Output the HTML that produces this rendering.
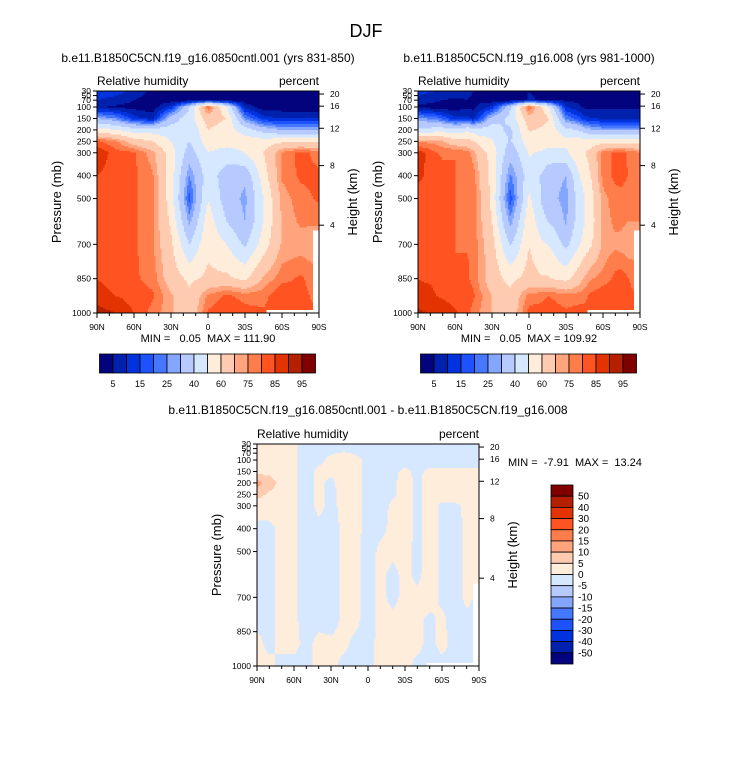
<!DOCTYPE html>
<html><head><meta charset="utf-8"><style>
html,body{margin:0;padding:0;background:#fff;}
svg{display:block;font-family:"Liberation Sans",Arial,sans-serif;}
text{white-space:pre;}
</style></head><body>
<svg id="fig" width="733" height="760" viewBox="0 0 733 760">
<text x="366" y="37" font-size="18" text-anchor="middle">DJF</text>
</svg>
<script>
// ---- data ----
const lats = [90,75,60,45,30,15,0,-15,-30,-45,-60,-75,-90];
const levs = [30,70,100,150,200,250,300,400,500,600,700,850,925,1000];
const rh = [
 [14,12,9,3,2,2,3,2,2,2,2,2,2],
 [10,8,5,2,2,2,4,2,2,2,2,2,2],
 [6,4,3,2,12,40,80,50,8,2,2,2,2],
 [30,25,12,8,35,45,65,60,25,12,10,10,10],
 [55,50,45,45,45,40,60,55,45,35,30,30,30],
 [81,76,65,60,50,40,55,55,55,55,58,58,58],
 [90,82,81,72,55,35,50,45,50,60,76,82,78],
 [85,82,81,76,55,25,45,35,32,55,76,81,81],
 [82,81,81,76,55,18,50,35,28,50,72,78,81],
 [81,81,81,76,58,28,55,40,30,50,71,76,76],
 [81,81,81,76,62,40,58,50,38,55,71,72,71],
 [85,82,81,78,65,58,62,62,58,71,78,81,76],
 [88,85,83,81,71,62,76,81,78,78,85,82,78],
 [92,90,85,78,71,62,81,85,82,81,82,81,81]
];
const dLats = [90,80,70,60,50,40,30,20,10,0,-10,-20,-30,-40,-50,-60,-70,-80,-90];
const dLevs = [30,100,150,200,250,300,400,500,600,700,800,900,1000];
const diff = [
 [2,2,2,1,-2,-2,-2,-2,-2,-2,-2,-2,-2,-2,-2,-2,-2,-2,-2],
 [2,2,2,1,-2,-1,1,2,1,-1,-2,-2,-2,-2,-2,-2,-2,-2,-2],
 [3,3,2,1,-2,1,1,2,1,-1,-2,-1,1,-1,1,1,1,1,1],
 [12,8,3,1,-2,1,-1,2,1,-1,-2,-1,2,-1,2,2,2,2,2],
 [7,4,2,1,-2,1,-1,1,1,-1,-2,-1,2,-1,2,2,2,2,2],
 [2,2,2,1,-2,1,-1,1,1,-1,-2,1,2,-1,2,-1,-1,1,2],
 [-1,-1,1,1,-2,-1,-2,1,1,-1,-1,1,2,-1,2,-1,-2,1,1],
 [-1,-1,1,1,-2,-2,-2,1,1,-2,1,1,1,-1,2,-1,-2,1,1],
 [-1,-1,1,1,-2,-2,-2,1,1,-2,1,-1,1,-1,2,-1,-2,1,1],
 [-1,-1,1,1,-2,-2,-2,1,1,-2,1,-1,1,1,2,-1,-2,1,-1],
 [-1,-1,1,1,-2,-1,-2,1,1,-2,1,1,1,1,-1,1,-2,-1,-1],
 [1,-1,1,1,-1,1,1,1,-1,-1,1,1,1,1,-1,1,-1,-1,-1],
 [1,1,-1,-1,-1,1,1,-1,-1,-1,1,1,1,-1,-1,-1,-1,-1,-1]
];
const rhLevels = [5,10,15,20,25,30,40,50,60,70,75,80,85,90,95];
const rhLabels = ["5","15","25","40","60","75","85","95"];
const dLevels = [-50,-40,-30,-20,-15,-10,-5,0,5,10,15,20,30,40,50];
const palette = ["#03037e","#0021ae","#0033dd","#1e52ff","#4677ff","#85a6ff","#b6caff","#d6e8ff","#ffeddc","#ffcbb0","#ffa47c","#ff7d4a","#ff5421","#e23300","#b52000","#800000"];
const presTicks = [30,50,70,100,150,200,250,300,400,500,700,850,1000];
const kmTicks = [20,16,12,8,4];
const latTicks = [90,60,30,0,-30,-60,-90];
const latTickLabels = ["90N","60N","30N","0","30S","60S","90S"];

const NS = "http://www.w3.org/2000/svg";
const fig = document.getElementById("fig");
function el(tag, attrs, parent, txt){
  const e = document.createElementNS(NS, tag);
  for (const k in attrs) e.setAttribute(k, attrs[k]);
  if (txt !== undefined) e.textContent = txt;
  (parent||fig).appendChild(e);
  return e;
}
function interp(grid, la, lv, lat, p){
  let i = 0; while (i < la.length-2 && lat < la[i+1]) i++;
  let fi = (la[i]-lat)/(la[i]-la[i+1]); fi = Math.max(0,Math.min(1,fi));
  let j = 0; while (j < lv.length-2 && p > lv[j+1]) j++;
  let fj = (p-lv[j])/(lv[j+1]-lv[j]); fj = Math.max(0,Math.min(1,fj));
  const a = grid[j][i]*(1-fi)+grid[j][i+1]*fi;
  const b = grid[j+1][i]*(1-fi)+grid[j+1][i+1]*fi;
  return a*(1-fj)+b*fj;
}
function levelIndex(levels, v){ let k=0; while(k<levels.length && v>=levels[k]) k++; return k; }
function missing(lat,p){ return (lat < -48 && p > 985) || (lat < -85 && p > 640); }

function drawPanel(x0,y0,w,h,fn,levels,name){
  const g = el("g",{},fig);
  
  
  const xs = lat => x0 + (90-lat)/180*w;
  const ys = p => y0 + (p-30)/970*h;
  const n = 148, cw = w/n, ch = h/n;
  for (let j=0;j<n;j++){
    const p = 30 + (j+0.5)/n*970;
    let start=0, cur=null;
    for (let i=0;i<=n;i++){
      let c = null;
      if (i<n){
        const lat = 90 - (i+0.5)/n*180;
        c = missing(lat,p) ? "#ffffff" : palette[levelIndex(levels, fn(lat,p))];
      }
      if (c !== cur){
        if (cur !== null){
          const r = el("rect",{x:(x0+start*cw).toFixed(2),y:(y0+j*ch).toFixed(2),width:((i-start)*cw+0.4).toFixed(2),height:(ch+0.4).toFixed(2),fill:cur},g);
          
          
        }
        start=i; cur=c;
      }
    }
  }
  const fr = el("rect",{x:x0,y:y0,width:w,height:h,fill:"none",stroke:"#000","stroke-width":1},fig);
  
  
  presTicks.forEach(p=>{
    const y = ys(p);
    el("line",{x1:x0-4,x2:x0,y1:y,y2:y,stroke:"#000"});
    const t = el("text",{x:x0-6,y:y+3,"font-size":8.5,"text-anchor":"end"},fig,String(p));
    
    
  });
  kmTicks.forEach(k=>{
    const p = 1013.25*Math.pow(1-2.25577e-5*k*1000,5.25588);
    const y = ys(p);
    el("line",{x1:x0+w,x2:x0+w+5,y1:y,y2:y,stroke:"#000"});
    const t = el("text",{x:x0+w+11,y:y+3,"font-size":8.5},fig,String(k));
    
    
  });
  for (let lat=90; lat>=-90; lat-=10){
    const x = xs(lat), major = lat%30===0;
    el("line",{x1:x,x2:x,y1:y0+h,y2:y0+h+(major?5:3),stroke:"#000"});
  }
  latTicks.forEach((lat,k)=>{
    const t = el("text",{x:xs(lat),y:y0+h+17,"font-size":8.5,"text-anchor":"middle"},fig,latTickLabels[k]);
    
    
  });
  const a = el("text",{x:x0,y:y0-6,"font-size":12},fig,"Relative humidity");
  
  
  const b = el("text",{x:x0+w,y:y0-6,"font-size":12,"text-anchor":"end"},fig,"percent");
  
  
  const yt = el("text",{x:0,y:0,"font-size":13,"text-anchor":"middle",transform:`translate(${x0-36},${y0+h/2}) rotate(-90)`},fig,"Pressure (mb)");
  
  
  const yt2 = el("text",{x:0,y:0,"font-size":13,"text-anchor":"middle",transform:`translate(${x0+w+38},${y0+h/2}) rotate(-90)`},fig,"Height (km)");
  
  
}
function hbar(x0,y0,w,h){
  const bw = w/16;
  palette.forEach((c,k)=>{
    const r = el("rect",{x:x0+k*bw,y:y0,width:bw,height:h,fill:c,stroke:"#000","stroke-width":0.8});
    
    
  });
  rhLabels.forEach((l,k)=>{
    const t = el("text",{x:x0+(2*k+1)*bw,y:y0+h+14,"font-size":9,"text-anchor":"middle"},fig,l);
    
    
  });
}
function vbar(x0,y0,w,h){
  const bh = h/16;
  for (let k=0;k<16;k++){
    const r = el("rect",{x:x0,y:y0+k*bh,width:w,height:bh,fill:palette[15-k],stroke:"#000","stroke-width":0.8});
    
    
  }
  for (let k=0;k<15;k++){
    const t = el("text",{x:x0+w+5,y:y0+(k+1)*bh+3.5,"font-size":10},fig,String(dLevels[14-k]));
    
    
  }
}
function txt(x,y,s,size,anchor,name){
  const t = el("text",{x:x,y:y,"font-size":size,"text-anchor":anchor},fig,s);
  
  
}
const rh1 = (lat,p)=>interp(rh,lats,levs,lat,p);
const dfn = (lat,p)=>interp(diff,dLats,dLevs,lat,p);
const rh2 = (lat,p)=>rh1(lat,p)-dfn(lat,p);

txt(208,62,"b.e11.B1850C5CN.f19_g16.0850cntl.001 (yrs 831-850)",12,"middle","left-panel-title");
txt(529,62,"b.e11.B1850C5CN.f19_g16.008 (yrs 981-1000)",12,"middle","right-panel-title");
drawPanel(97,91,222,222,rh1,rhLevels,"left-contour-plot");
drawPanel(418,91,222,222,rh2,rhLevels,"right-contour-plot");
txt(208,342,"MIN =   0.05  MAX = 111.90",11,"middle","left-min-max");
txt(529,342,"MIN =   0.05  MAX = 109.92",11,"middle","right-min-max");
hbar(99.5,354,216,19);
hbar(420.5,354,216,19);
txt(368,414,"b.e11.B1850C5CN.f19_g16.0850cntl.001 - b.e11.B1850C5CN.f19_g16.008",12,"middle","diff-panel-title");
drawPanel(257,444,222,222,dfn,dLevels,"diff-contour-plot");
txt(508,466,"MIN =  -7.91  MAX =  13.24",11,"start","diff-min-max");
vbar(551,485,22,179);
</script>
</body></html>
